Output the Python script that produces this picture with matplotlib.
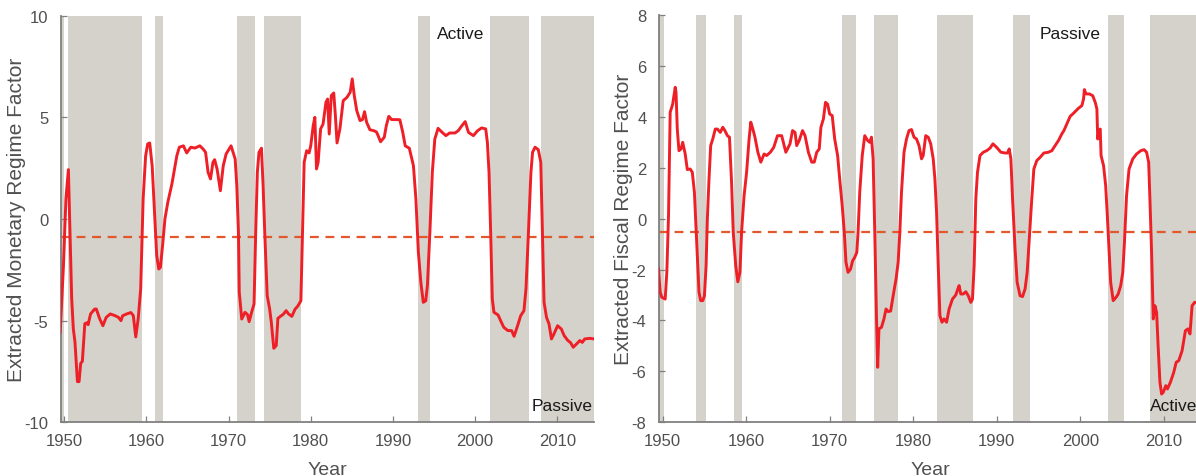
import matplotlib
matplotlib.use("Agg")
import matplotlib.pyplot as plt

plt.rcParams['font.family'] = ['Liberation Sans', 'DejaVu Sans']
plt.rcParams['axes.unicode_minus'] = False

# Monetary regime factor
mon_year = [1949.5, 1949.9, 1950.2, 1950.5, 1950.7, 1950.9, 1951.1, 1951.3, 1951.6, 1951.8,
            1952.0, 1952.2, 1952.5, 1952.8, 1952.9, 1953.2, 1953.7, 1953.9, 1954.3, 1954.7,
            1955.1, 1955.6, 1956.2, 1956.6, 1956.9, 1957.1, 1957.6, 1958.1, 1958.4, 1958.7,
            1959.0, 1959.3, 1959.6, 1959.9, 1960.15, 1960.4, 1960.7, 1961.0, 1961.25, 1961.5,
            1961.7, 1962.0, 1962.25, 1962.6, 1963.1, 1963.35, 1963.7, 1964.0, 1964.5, 1964.9,
            1965.4, 1965.9, 1966.5, 1966.9, 1967.2, 1967.5, 1967.8, 1968.1, 1968.3, 1968.6,
            1969.0, 1969.35, 1969.7, 1970.3, 1970.8, 1971.0, 1971.2, 1971.3, 1971.6, 1972.0,
            1972.3, 1972.5, 1972.8, 1973.1, 1973.3, 1973.5, 1973.7, 1974.0, 1974.2, 1974.4,
            1974.7, 1975.0, 1975.2, 1975.5, 1975.8, 1976.0, 1976.3, 1976.65, 1977.0, 1977.3,
            1977.7, 1978.1, 1978.4, 1978.8, 1979.0, 1979.2, 1979.5, 1979.8, 1980.0, 1980.3,
            1980.5, 1980.7, 1980.9, 1981.2, 1981.5, 1981.85, 1982.05, 1982.25, 1982.5, 1982.8,
            1983.0, 1983.2, 1983.55, 1983.95, 1984.4, 1984.8, 1985.05, 1985.3, 1985.6, 1986.0,
            1986.3, 1986.55, 1986.8, 1987.2, 1987.7, 1988.0, 1988.2, 1988.5, 1988.95, 1989.2,
            1989.5, 1989.85, 1990.45, 1990.85, 1991.2, 1991.5, 1992.0, 1992.5, 1992.8, 1993.1,
            1993.4, 1993.7, 1994.0, 1994.2, 1994.5, 1994.8, 1995.1, 1995.5, 1996.0, 1996.45,
            1996.9, 1997.55, 1997.95, 1998.4, 1998.8, 1999.2, 1999.8, 2000.3, 2000.8, 2001.3,
            2001.5, 2001.7, 2001.9, 2002.1, 2002.3, 2002.8, 2003.2, 2003.5, 2004.0, 2004.45,
            2004.75, 2005.25, 2005.55, 2005.95, 2006.2, 2006.5, 2006.8, 2007.0, 2007.3, 2007.7,
            2008.0, 2008.2, 2008.4, 2008.7, 2009.0, 2009.3, 2009.6, 2010.05, 2010.5, 2010.85,
            2011.3, 2011.6, 2011.95, 2012.35, 2012.75, 2013.05, 2013.35, 2013.95, 2014.5]
mon_val = [-5.57, -2.3, 1.0, 2.43, -0.65, -3.9, -5.4, -6.05, -8.0, -8.0,
           -7.1, -7.0, -5.15, -5.1, -5.2, -4.67, -4.43, -4.43, -4.9, -5.25,
           -4.84, -4.67, -4.76, -4.84, -5.0, -4.76, -4.67, -4.6, -4.75, -5.8,
           -4.9, -3.44, 1.0, 3.1, 3.69, 3.74, 2.6, 0.16, -1.8, -2.46,
           -2.38, -1.15, 0.0, 0.82, 1.72, 2.3, 3.11, 3.53, 3.6, 3.25,
           3.53, 3.49, 3.6, 3.44, 3.28, 2.3, 1.97, 2.79, 2.92, 2.46,
           1.39, 2.62, 3.2, 3.6, 2.95, 1.64, -0.66, -3.6, -4.92, -4.59,
           -4.7, -5.05, -4.59, -4.18, -0.66, 2.3, 3.28, 3.48, 1.64, -0.66,
           -3.77, -4.43, -5.08, -6.36, -6.23, -4.89, -4.79, -4.69, -4.51, -4.67,
           -4.79, -4.43, -4.3, -4.02, -0.66, 2.79, 3.36, 3.25, 3.6, 4.59,
           5.0, 2.46, 2.79, 4.43, 4.67, 5.74, 5.9, 4.18, 6.07, 6.2,
           5.08, 3.74, 4.43, 5.82, 5.98, 6.23, 6.89, 6.07, 5.33, 4.84,
           4.89, 5.28, 4.76, 4.39, 4.34, 4.28, 4.1, 3.8, 4.02, 4.59,
           5.05, 4.89, 4.89, 4.88, 4.26, 3.6, 3.48, 2.62, 0.98, -1.64,
           -3.11, -4.1, -4.02, -3.28, -0.66, 2.3, 3.93, 4.46, 4.26, 4.1,
           4.23, 4.23, 4.34, 4.59, 4.79, 4.26, 4.1, 4.34, 4.48, 4.43,
           3.77, 2.3, -0.66, -3.93, -4.59, -4.72, -5.08, -5.33, -5.49, -5.49,
           -5.77, -5.16, -4.76, -4.51, -3.44, -0.66, 2.3, 3.28, 3.53, 3.41,
           2.79, -0.66, -4.1, -4.84, -5.16, -5.9, -5.66, -5.25, -5.41, -5.74,
           -5.98, -6.07, -6.31, -6.15, -5.98, -6.07, -5.9, -5.87, -5.9]

# Fiscal regime factor
fis_year = [1949.5, 1949.7, 1949.9, 1950.3, 1950.5, 1950.7, 1950.9, 1951.2, 1951.5, 1951.6,
            1951.75, 1951.95, 1952.2, 1952.4, 1952.7, 1952.95, 1953.3, 1953.55, 1953.8, 1954.1,
            1954.35, 1954.55, 1954.8, 1955.0, 1955.2, 1955.35, 1955.55, 1955.75, 1956.0, 1956.3,
            1956.55, 1956.9, 1957.2, 1957.45, 1957.75, 1958.0, 1958.25, 1958.45, 1958.75, 1959.0,
            1959.25, 1959.45, 1959.75, 1960.05, 1960.35, 1960.55, 1960.8, 1961.05, 1961.4, 1961.75,
            1962.15, 1962.45, 1962.9, 1963.3, 1963.75, 1964.25, 1964.75, 1965.25, 1965.55, 1965.85,
            1966.05, 1966.35, 1966.75, 1967.05, 1967.45, 1967.85, 1968.15, 1968.45, 1968.75, 1968.95,
            1969.25, 1969.5, 1969.75, 1970.0, 1970.3, 1970.6, 1970.95, 1971.2, 1971.5, 1971.75,
            1971.95, 1972.2, 1972.5, 1972.75, 1973.0, 1973.25, 1973.4, 1973.6, 1973.9, 1974.2,
            1974.55, 1974.8, 1975.0, 1975.2, 1975.4, 1975.6, 1975.75, 1975.9, 1976.2, 1976.5,
            1976.75, 1977.0, 1977.3, 1977.6, 1977.95, 1978.2, 1978.4, 1978.6, 1978.9, 1979.2,
            1979.5, 1979.8, 1980.1, 1980.4, 1980.7, 1981.0, 1981.2, 1981.5, 1981.8, 1982.1,
            1982.4, 1982.6, 1982.8, 1983.0, 1983.2, 1983.45, 1983.7, 1984.0, 1984.3, 1984.7,
            1985.1, 1985.35, 1985.5, 1985.7, 1986.0, 1986.3, 1986.6, 1986.9, 1987.1, 1987.3,
            1987.5, 1987.7, 1988.0, 1988.4, 1988.8, 1989.2, 1989.55, 1990.0, 1990.5, 1991.0,
            1991.3, 1991.5, 1991.7, 1991.9, 1992.2, 1992.45, 1992.8, 1993.1, 1993.4, 1993.65,
            1993.9, 1994.2, 1994.45, 1994.8, 1995.2, 1995.65, 1996.2, 1996.6, 1997.0, 1997.4,
            1997.8, 1998.05, 1998.4, 1998.8, 1999.2, 1999.5, 1999.8, 2000.2, 2000.4, 2000.5,
            2000.7, 2001.1, 2001.5, 2001.8, 2002.0, 2002.1, 2002.25, 2002.4, 2002.5, 2002.8,
            2003.05, 2003.25, 2003.45, 2003.65, 2003.95, 2004.3, 2004.55, 2004.85, 2005.1, 2005.3,
            2005.55, 2005.85, 2006.3, 2006.75, 2007.25, 2007.65, 2007.95, 2008.2, 2008.35, 2008.55,
            2008.75, 2008.95, 2009.15, 2009.35, 2009.55, 2009.75, 2009.95, 2010.25, 2010.45, 2010.8,
            2011.2, 2011.5, 2011.8, 2012.2, 2012.6, 2012.9, 2013.15, 2013.4, 2013.7, 2014.4]
fis_val = [-1.98, -2.89, -3.09, -3.16, -2.1, 0.12, 4.18, 4.5, 5.16, 4.97,
           3.52, 2.67, 2.74, 3.0, 2.54, 1.93, 1.95, 1.82, 1.04, -1.06,
           -2.89, -3.22, -3.22, -3.03, -1.85, -0.01, 1.56, 2.87, 3.13, 3.52,
           3.52, 3.39, 3.59, 3.46, 3.26, 3.2, 1.43, -0.53, -1.85, -2.48,
           -2.11, -0.53, 0.9, 1.82, 3.13, 3.79, 3.52, 3.2, 2.61, 2.22,
           2.54, 2.48, 2.61, 2.8, 3.26, 3.26, 2.61, 2.94, 3.46, 3.39,
           2.87, 3.07, 3.46, 3.26, 2.61, 2.22, 2.22, 2.61, 2.74, 3.59,
           3.92, 4.57, 4.5, 4.11, 4.05, 3.13, 2.48, 1.56, 0.51, -0.53,
           -1.71, -2.11, -1.98, -1.65, -1.52, -1.32, -0.53, 1.04, 2.48, 3.26,
           3.07, 3.0, 3.2, 2.35, -0.53, -3.81, -5.84, -4.33, -4.27, -3.94,
           -3.55, -3.65, -3.63, -3.03, -2.37, -1.71, -0.53, 1.04, 2.61, 3.13,
           3.46, 3.5, 3.2, 3.13, 2.87, 2.35, 2.48, 3.26, 3.2, 2.94,
           2.35, 1.56, 0.25, -1.85, -3.81, -4.07, -3.94, -4.07, -3.55, -3.16,
           -3.0, -2.76, -2.63, -2.96, -2.96, -2.87, -3.03, -3.29, -3.16, -1.85,
           0.77, 1.82, 2.48, 2.61, 2.67, 2.77, 2.94, 2.8, 2.61, 2.58,
           2.58, 2.74, 2.35, 0.77, -1.19, -2.5, -3.03, -3.06, -2.76, -2.11,
           -0.8, 0.77, 1.95, 2.28, 2.41, 2.58, 2.61, 2.67, 2.87, 3.07,
           3.33, 3.46, 3.72, 4.02, 4.14, 4.24, 4.34, 4.44, 4.7, 5.07,
           4.9, 4.9, 4.83, 4.57, 4.31, 3.13, 3.46, 3.52, 2.48, 2.08,
           1.3, 0.12, -1.19, -2.5, -3.22, -3.09, -2.96, -2.63, -2.11, -0.93,
           0.9, 1.95, 2.35, 2.54, 2.67, 2.71, 2.61, 2.22, 0.77, -1.32,
           -3.94, -3.42, -3.68, -5.12, -6.43, -6.89, -6.82, -6.56, -6.69, -6.43,
           -6.04, -5.64, -5.58, -5.19, -4.4, -4.33, -4.53, -3.42, -3.29, -3.29]

# shaded regime periods (start, end)
mon_shade = [(1949.6, 1950.0), (1950.5, 1959.5), (1961.0, 1962.0), (1971.0, 1973.2),
             (1974.3, 1978.8), (1993.05, 1994.5), (2001.8, 2006.6), (2008.0, 2014.6)]
fis_shade = [(1949.5, 1950.2), (1954.0, 1955.2), (1958.5, 1959.5), (1971.5, 1973.2),
             (1975.3, 1978.2), (1982.8, 1987.2), (1992.0, 1994.0), (2003.3, 2005.25),
             (2008.3, 2014.6)]

mon_threshold = -0.87
fis_threshold = -0.51

mon_labels = ("Active", "Passive")
fis_labels = ("Passive", "Active")

SHADE = '#d4d2ca'
LINE = '#ee1f26'
DASH = '#e2582c'
SPINE = '#808080'
TXT = '#505050'

fig = plt.figure(figsize=(11.96, 4.77), dpi=100)
ax1 = fig.add_axes([0.051, 0.1126, 0.4458, 0.8524])
ax2 = fig.add_axes([0.551, 0.1126, 0.4532, 0.8538])


def draw_panel(ax, years, vals, shades, thr, ylim, yticks, ylabel, xlim, labels, lab_x):
    for s, e in shades:
        ax.axvspan(s, e, color=SHADE, lw=0, zorder=1)
    ax.axhline(thr, color=DASH, lw=1.6, ls=(0, (4, 3)), zorder=2)
    ax.plot(years, vals, color=LINE, lw=2.1, zorder=3)
    ax.set_xlim(*xlim)
    ax.set_ylim(*ylim)
    ax.set_yticks(yticks)
    ax.set_xticks(range(1950, 2011, 10))
    for side in ('top', 'right'):
        ax.spines[side].set_visible(False)
    for side in ('left', 'bottom'):
        ax.spines[side].set_color(SPINE)
        ax.spines[side].set_linewidth(1.3)
    ax.tick_params(direction='in', length=4, width=0.9, color=SPINE,
                   labelsize=12, labelcolor=TXT)
    ax.tick_params(axis='y', pad=9)
    ax.tick_params(axis='x', pad=8)
    ax.set_ylabel(ylabel, fontsize=15, color=TXT)
    ax.set_xlabel("Year", fontsize=14, color=TXT)
    ax.xaxis.set_label_coords(0.5, -0.094)
    top, bottom = labels
    ax.text(lab_x[0], 0.955, top, transform=ax.transAxes, fontsize=12.5,
            color='#1a1a1a', ha='center', va='center', zorder=4)
    ax.text(lab_x[1], 0.042, bottom, transform=ax.transAxes, fontsize=12.5,
            color='#1a1a1a', ha='center', va='center', zorder=4)


draw_panel(ax1, mon_year, mon_val, mon_shade, mon_threshold, (-10, 10),
           [-10, -5, 0, 5, 10], "Extracted Monetary Regime Factor",
           (1949.6, 2014.5), mon_labels, (0.75, 0.94))
ax1.yaxis.set_label_coords(-0.066, 0.5)

draw_panel(ax2, fis_year, fis_val, fis_shade, fis_threshold, (-8, 8),
           list(range(-8, 9, 2)), "Extracted Fiscal Regime Factor",
           (1949.56, 2014.47), fis_labels, (0.758, 0.95))
ax2.yaxis.set_label_coords(-0.048, 0.5)

fig.savefig("out.png", dpi=100)
